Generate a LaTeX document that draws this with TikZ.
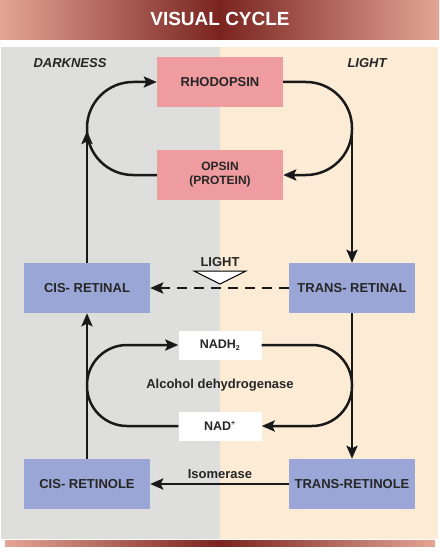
\documentclass[tikz,border=0pt]{standalone}
\usepackage{fontspec}
\setmainfont{Liberation Sans}
\usetikzlibrary{arrows.meta,positioning,calc}
\definecolor{dark}{HTML}{DEDEDC}
\definecolor{light}{HTML}{FCEBD5}
\definecolor{pinkbox}{HTML}{EE9CA0}
\definecolor{bluebox}{HTML}{9AA7D6}
\definecolor{banner}{HTML}{7A2420}
\definecolor{bannerend}{HTML}{E3A594}
\tikzset{box/.style={fill=bluebox,minimum width=126pt,minimum height=50pt,inner sep=2pt,align=center,text=black!85,font=\bfseries\fontsize{13}{15}\selectfont},pbox/.style={box,fill=pinkbox},wbox/.style={fill=white,minimum width=83pt,minimum height=29pt,inner sep=2pt,text=black!85,font=\bfseries\fontsize{12.5}{14}\selectfont},arrow/.style={-{Stealth[length=13pt,width=11pt,inset=2.5pt]},line width=2.5pt,black!90},lab/.style={text=black!85,font=\bfseries\fontsize{13}{15}\selectfont}}
\begin{document}
\begin{tikzpicture}[x=1pt,y=-1pt]
\useasboundingbox (0,0) rectangle (439,559);
% title banner and background
\shade[left color=bannerend,right color=bannerend,middle color=banner] (0,0) rectangle (439,40);
\node[text=white,font=\bfseries\fontsize{19}{21}\selectfont] (title) at (220,19) {VISUAL CYCLE};
\fill[dark] (1,47) rectangle (220,539);
\fill[light] (220,47) rectangle (438,539);
\shade[left color=bannerend,right color=bannerend,middle color=banner] (5,540) rectangle (435,546);
\node[lab,font=\bfseries\itshape\fontsize{13}{15}\selectfont] (dk) at (70,63) {DARKNESS};
\node[lab,font=\bfseries\itshape\fontsize{13}{15}\selectfont] (lt) at (367,63) {LIGHT};
% boxes
\node[pbox] (rho) at (220,82) {RHODOPSIN};
\node[pbox,font=\bfseries\fontsize{12}{14}\selectfont] (ops) at (220,175) {OPSIN\\(PROTEIN)};
\node[box] (cret) at (87,288) {CIS- RETINAL};
\node[box] (tret) at (352,288) {TRANS- RETINAL};
\node[box] (crol) at (87,484) {CIS- RETINOLE};
\node[box] (trol) at (352,484) {TRANS-RETINOLE};
\node[wbox] (nadh) at (220,345) {NADH\textsubscript{\fontsize{7}{8}\selectfont 2}};
\node[wbox] (nad) at (220,426) {NAD\textsuperscript{\fontsize{7}{8}\selectfont +}};
\node[lab] (adh) at (220,385) {Alcohol dehydrogenase};
\node[lab] (iso) at (220,474) {Isomerase};
\node[lab] (lightlab) at (220,262) {LIGHT};
\coordinate (tl) at (194,271);\coordinate (tr) at (246,271);\coordinate (tb) at (220,284);
\draw[fill=white,line width=1pt] (tl)--(tr)--(tb)--cycle;
% upper loops
\draw[arrow,rounded corners=46pt] (ops.west)--(87,175)--(87,82)--(rho.west);
\draw[arrow,rounded corners=46pt] (rho.east)--(352,82)--(352,175)--(ops.east);
\draw[arrow] (cret.north)--(87,131);
\draw[arrow] (352,124)--(tret.north);
% light reaction
\draw[arrow,dash pattern=on 10pt off 7pt] (tret.west)--(cret.east);
% lower loops
\draw[arrow,rounded corners=40pt] (nad.west)--(87,426)--(87,345)--(nadh.west);
\draw[arrow,rounded corners=40pt] (nadh.east)--(352,345)--(352,426)--(nad.east);
\draw[arrow] (tret.south)--(trol.north);
\draw[arrow] (crol.north)--(cret.south);
\draw[arrow] (trol.west)--(crol.east);
\end{tikzpicture}
\end{document}
